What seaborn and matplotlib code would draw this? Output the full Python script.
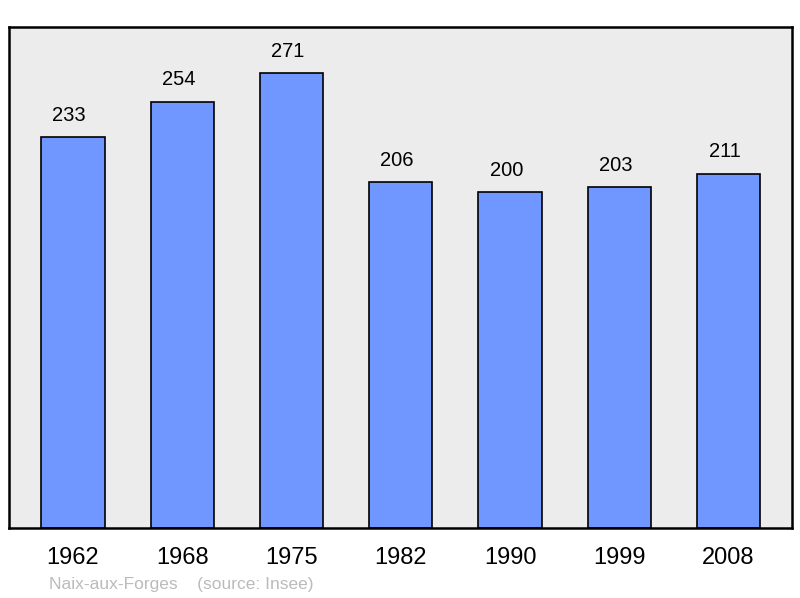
import pandas as pd
import matplotlib.pyplot as plt
import seaborn as sns

years = ['1962', '1968', '1975', '1982', '1990', '1999', '2008']
population = [233, 254, 271, 206, 200, 203, 211]
commune = 'Naix-aux-Forges'
source = '(source: Insee)'

sns.set_theme(style="white")
plt.rcParams['font.family'] = ['Liberation Sans', 'DejaVu Sans']

df = pd.DataFrame({'year': years, 'pop': population})

fig = plt.figure(figsize=(8, 5.98), dpi=100)
ax = fig.add_axes([0.01125, 0.117, 0.97875, 0.838])
ax.set_facecolor('#ececec')

sns.barplot(data=df, x='year', y='pop', color='#7097ff', saturation=1,
            width=0.58, edgecolor='black', linewidth=1.2, ax=ax)

# etiquetas de valor, un poco a la izquierda como en el original
for i, v in enumerate(population):
    ax.text(i - 0.035, v + 13, str(v), ha='center', va='center', fontsize=14.5, color='black')

ax.set_xlim(-0.585, 6.58)
ax.set_ylim(0, 298.5)
ax.set_yticks([])
ax.set_xlabel('')
ax.set_ylabel('')
ax.tick_params(axis='x', length=0, labelsize=17, pad=14, colors='black')
for s in ax.spines.values():
    s.set_color('black')
    s.set_linewidth(1.8)

fig.text(49 / 800, 1 - 584 / 598, commune + '    ' + source, fontsize=12.5,
         color='#bbbbbb', ha='left', va='center')

fig.savefig('out.png', dpi=100)
